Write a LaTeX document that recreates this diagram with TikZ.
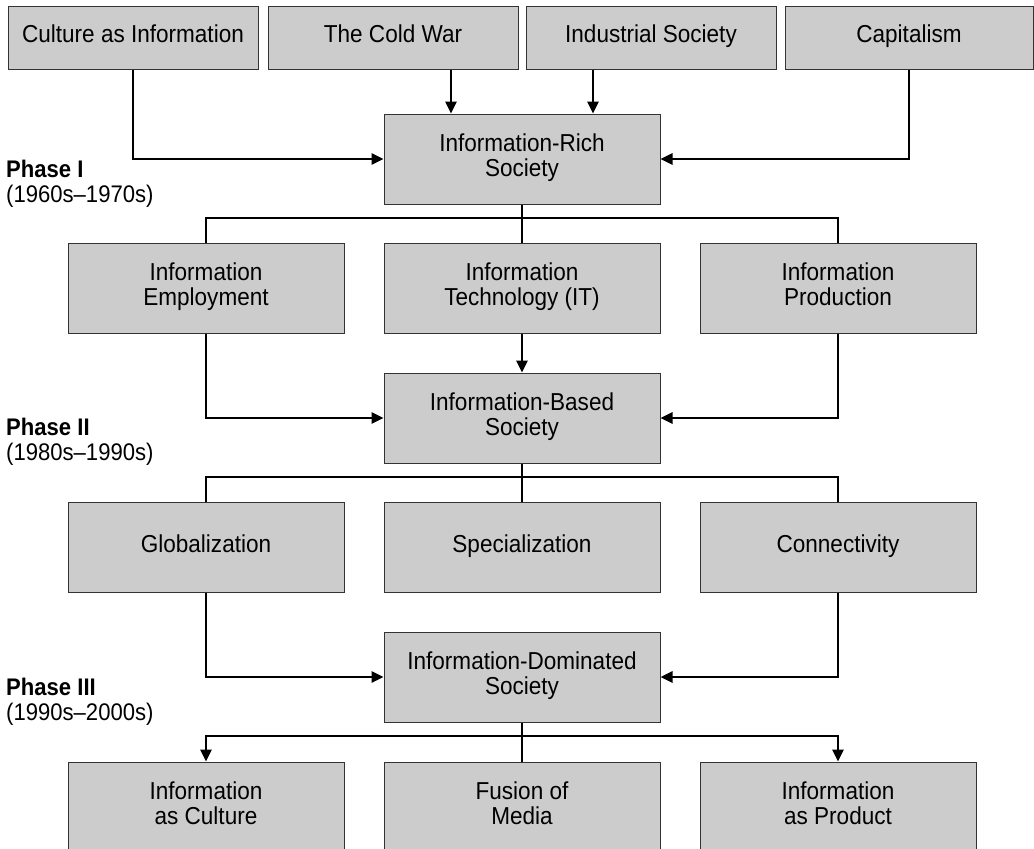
\documentclass[tikz,border=0pt]{standalone}
\usepackage{fontspec}
\setmainfont{Liberation Sans}[FakeStretch=0.92]
\usetikzlibrary{arrows.meta}
\definecolor{boxgray}{HTML}{CCCCCC}
\begin{document}
\begin{tikzpicture}[x=1pt,y=-1pt,
  box/.style={draw=black!80, line width=1pt, fill=boxgray, inner sep=0pt, align=center,
              font=\fontsize{24.5}{25}\selectfont,
              execute at begin node=\strut, execute at end node=\strut},
  topbox/.style={box, minimum width=250pt, minimum height=63pt},
  midbox/.style={box, minimum width=276pt, minimum height=90pt},
  conn/.style={line width=2.7pt, black},
  tip/.tip={Triangle[length=12pt,width=11pt]},
  arr/.style={conn, -tip},
  phase/.style={anchor=base west, inner sep=0pt, font=\fontsize{24}{25}\selectfont}]
\clip (0,0) rectangle (1034,849);
\fill[white] (0,0) rectangle (1034,849);

% top row
\node[topbox] (cult) at (133,37.5) {Culture as Information};
\node[topbox] (cold) at (393,37.5) {The Cold War};
\node[topbox] (ind)  at (651,37.5) {Industrial Society};
\node[topbox, minimum width=248pt] (cap) at (909,37.5) {Capitalism};

% phase I
\node[midbox] (irs) at (522,159) {Information-Rich\\Society};
\node[midbox] (emp) at (206,288) {Information\\Employment};
\node[midbox] (it)  at (522,288) {Information\\Technology (IT)};
\node[midbox] (prod) at (838,288) {Information\\Production};

% phase II
\node[midbox] (ibs) at (522,418) {Information-Based\\Society};
\node[midbox] (glob) at (206,547.5) {Globalization};
\node[midbox] (spec) at (522,547.5) {Specialization};
\node[midbox] (conx) at (838,547.5) {Connectivity};

% phase III
\node[midbox] (ids) at (522,677) {Information-Dominated\\Society};
\node[midbox] (infc) at (206,807) {Information\\as Culture};
\node[midbox] (fus)  at (522,807) {Fusion of\\Media};
\node[midbox] (infp) at (838,807) {Information\\as Product};

% phase labels
\node[phase] (p1a) at (6,177) {\bfseries Phase I};
\node[phase] (p1b) at (6,202) {(1960s–1970s)};
\node[phase] (p2a) at (6,435) {\bfseries Phase II};
\node[phase] (p2b) at (6,460) {(1980s–1990s)};
\node[phase] (p3a) at (6,695) {\bfseries Phase III};
\node[phase] (p3b) at (6,720) {(1990s–2000s)};

% bus coordinates
\coordinate (b1) at (522,218);
\coordinate (b2) at (522,477);
\coordinate (b3) at (522,736);
\coordinate (cwx) at (451,0);
\coordinate (isx) at (593,0);

% connectors into IRS
\draw[arr] (cult.south) |- (irs.west);
\draw[arr] (cap.south) |- (irs.east);
\draw[arr] (cwx |- cold.south) -- (cwx |- irs.north);
\draw[arr] (isx |- ind.south) -- (isx |- irs.north);

% IRS fan-out
\draw[conn] (irs.south) -- (it.north);
\draw[conn] (emp.north) -- (emp.north |- b1) -- (prod.north |- b1) -- (prod.north);

% into IBS
\draw[arr] (it.south) -- (ibs.north);
\draw[arr] (emp.south) |- (ibs.west);
\draw[arr] (prod.south) |- (ibs.east);

% IBS fan-out
\draw[conn] (ibs.south) -- (spec.north);
\draw[conn] (glob.north) -- (glob.north |- b2) -- (conx.north |- b2) -- (conx.north);

% into IDS
\draw[arr] (glob.south) |- (ids.west);
\draw[arr] (conx.south) |- (ids.east);

% IDS fan-out
\draw[conn] (ids.south) -- (fus.north);
\draw[conn, tip-tip] (infc.north) -- (infc.north |- b3) -- (infp.north |- b3) -- (infp.north);
\end{tikzpicture}
\end{document}
